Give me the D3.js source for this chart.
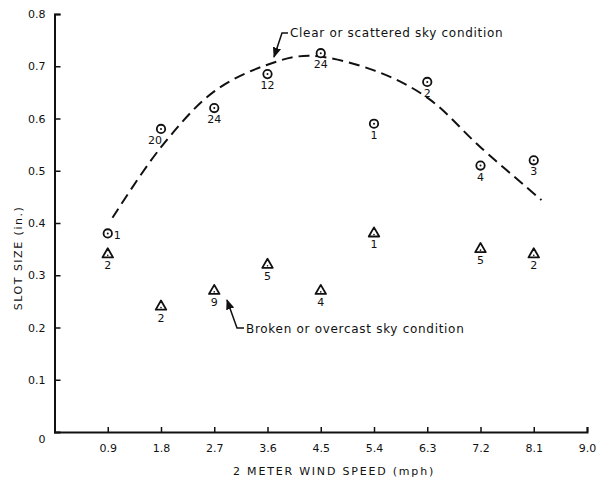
<!DOCTYPE html>
<html>
<head>
<meta charset="utf-8">
<script src="https://cdn.jsdelivr.net/npm/d3@7"></script>
<style>
  body { margin: 0; background: #fff; }
  svg text { font-family: "DejaVu Sans", sans-serif; fill: #111; }
</style>
</head>
<body>
<svg id="chart"></svg>
<script>
// valeurs
const windSpeed = [0.9, 1.8, 2.7, 3.6, 4.5, 5.4, 6.3, 7.2, 8.1];
const clearSlot = [0.38, 0.58, 0.62, 0.685, 0.725, 0.59, 0.67, 0.51, 0.52];
const clearCount = ["1", "20", "24", "12", "24", "1", "2", "4", "3"];
const clearLabelSide = ["right", "belowLeft", "below", "below", "below", "below", "below", "below", "below"];

const brokenSpeed = [0.9, 1.8, 2.7, 3.6, 4.5, 5.4, 7.2, 8.1];
const brokenSlot = [0.34, 0.24, 0.27, 0.32, 0.27, 0.38, 0.35, 0.34];
const brokenCount = ["2", "2", "9", "5", "4", "1", "5", "2"];

// courbe tiretée (ajustement à l'oeil)
const curveX = [0.98, 1.8, 2.7, 3.6, 4.3, 5.4, 6.3, 7.2, 8.23];
const curveY = [0.41, 0.545, 0.652, 0.703, 0.72, 0.692, 0.64, 0.545, 0.444];

const xTicks = [0.9, 1.8, 2.7, 3.6, 4.5, 5.4, 6.3, 7.2, 8.1, 9.0];
const xTickLabels = ["0.9", "1.8", "2.7", "3.6", "4.5", "5.4", "6.3", "7.2", "8.1", "9.0"];
const yTicks = [0.1, 0.2, 0.3, 0.4, 0.5, 0.6, 0.7, 0.8];

const width = 603, height = 482;
const svg = d3.select("#chart").attr("width", width).attr("height", height);

const x = d3.scaleLinear().domain([0, 9]).range([54.5, 587]);
const y = d3.scaleLinear().domain([0, 0.8]).range([432, 14]);

// axes
const xAxis = svg.append("g")
    .attr("transform", `translate(0,${y(0)})`)
    .call(d3.axisBottom(x).tickValues(xTicks).tickSize(-5).tickPadding(12)
        .tickFormat((d, i) => xTickLabels[i]));
const yAxis = svg.append("g")
    .attr("transform", `translate(${x(0)},0)`)
    .call(d3.axisLeft(y).tickValues(yTicks).tickSize(-6).tickPadding(9)
        .tickFormat(d3.format(".1f")));

[xAxis, yAxis].forEach(g => {
    g.select(".domain").attr("stroke", "#111").attr("stroke-width", 2);
    g.selectAll(".tick line").attr("stroke", "#111").attr("stroke-width", 1.5);
    g.selectAll(".tick text").attr("font-size", 11).attr("fill", "#111")
        .style("font-family", "DejaVu Sans, sans-serif");
});

svg.append("text").attr("x", x(0) - 9).attr("y", y(0) + 11)
    .attr("text-anchor", "end").attr("font-size", 11).text("0");

// titres des axes
svg.append("text")
    .attr("x", 334).attr("y", 475)
    .attr("text-anchor", "middle").attr("font-size", 11)
    .attr("letter-spacing", 1.8)
    .text("2 METER WIND SPEED  (mph)");

svg.append("text")
    .attr("transform", "translate(22,258) rotate(-90)")
    .attr("text-anchor", "middle").attr("font-size", 11)
    .attr("letter-spacing", 1.5)
    .text("SLOT SIZE  (in.)");

// courbe tiretée
const line = d3.line()
    .x(d => x(d[0])).y(d => y(d[1]))
    .curve(d3.curveCatmullRom.alpha(0.5));

svg.append("path")
    .datum(d3.zip(curveX, curveY))
    .attr("d", line)
    .attr("fill", "none")
    .attr("stroke", "#111")
    .attr("stroke-width", 2)
    .attr("stroke-dasharray", "11,6");

// points ciel clair : cercles pointés
const clear = svg.append("g").selectAll("g")
    .data(windSpeed.map((s, i) => ({ s, v: clearSlot[i], n: clearCount[i], side: clearLabelSide[i] })))
    .join("g")
    .attr("transform", d => `translate(${x(d.s)},${y(d.v)})`);

clear.append("circle").attr("r", 4.2).attr("fill", "#fff")
    .attr("stroke", "#111").attr("stroke-width", 1.8);
clear.append("circle").attr("r", 1).attr("fill", "#111");
clear.append("text")
    .attr("font-size", 11)
    .attr("text-anchor", d => d.side === "right" ? "start" : "middle")
    .attr("x", d => d.side === "right" ? 6 : d.side === "belowLeft" ? -6 : 0)
    .attr("y", d => d.side === "right" ? 6 : 15)
    .text(d => d.n);

// points ciel couvert : triangles pointés
const tri = d3.symbol().type(d3.symbolTriangle).size(48);
const broken = svg.append("g").selectAll("g")
    .data(brokenSpeed.map((s, i) => ({ s, v: brokenSlot[i], n: brokenCount[i] })))
    .join("g")
    .attr("transform", d => `translate(${x(d.s)},${y(d.v)})`);

broken.append("path").attr("d", tri).attr("fill", "#fff")
    .attr("stroke", "#111").attr("stroke-width", 1.8).attr("stroke-linejoin", "round");
broken.append("circle").attr("r", 0.8).attr("cy", 1).attr("fill", "#111");
broken.append("text")
    .attr("font-size", 11).attr("text-anchor", "middle")
    .attr("y", 15)
    .text(d => d.n);

// annotations
svg.append("defs").append("marker")
    .attr("id", "arrow").attr("viewBox", "0 0 10 10")
    .attr("refX", 9).attr("refY", 5)
    .attr("markerWidth", 7).attr("markerHeight", 7)
    .attr("orient", "auto-start-reverse")
    .append("path").attr("d", "M0,1 L10,5 L0,9 z").attr("fill", "#111");

svg.append("path")
    .attr("d", "M288,33 L282,33 L274,57")
    .attr("fill", "none").attr("stroke", "#111").attr("stroke-width", 1.5)
    .attr("marker-end", "url(#arrow)");
svg.append("text").attr("x", 290).attr("y", 37).attr("font-size", 12)
    .attr("letter-spacing", 0.7)
    .text("Clear or scattered sky condition");

svg.append("path")
    .attr("d", "M244,328 L237,328 L227,300")
    .attr("fill", "none").attr("stroke", "#111").attr("stroke-width", 1.5)
    .attr("marker-end", "url(#arrow)");
svg.append("text").attr("x", 246).attr("y", 333).attr("font-size", 12)
    .attr("letter-spacing", 0.7)
    .text("Broken or overcast sky condition");
</script>
</body>
</html>
